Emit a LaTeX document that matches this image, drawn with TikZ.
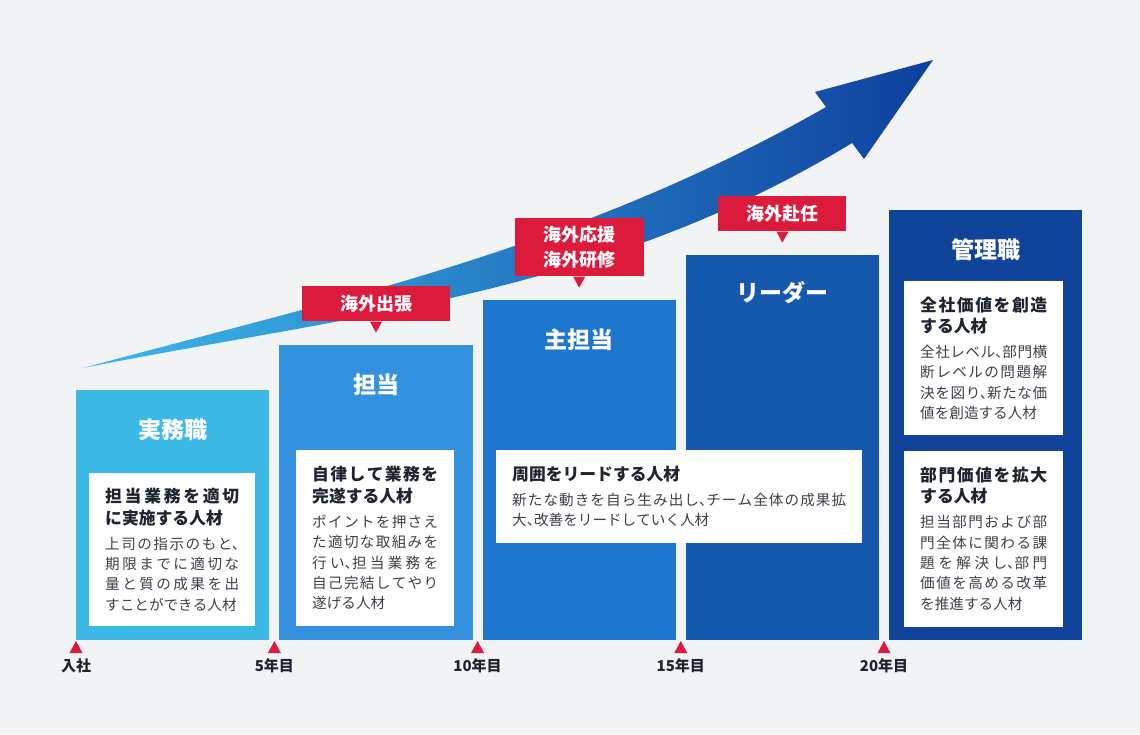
\documentclass[tikz,border=0pt]{standalone}
\usepackage{fontspec}
\setmainfont{Noto Sans CJK JP}
\usepackage{tikz}
\usetikzlibrary{positioning,calc}
\usepackage{xcolor}
\XeTeXlinebreaklocale "ja"
\XeTeXlinebreakskip=0pt plus 6pt
\definecolor{bgcol}{HTML}{F2F3F5}
\definecolor{stageA}{HTML}{3CB9E6}
\definecolor{stageB}{HTML}{3391E0}
\definecolor{stageC}{HTML}{1D77CE}
\definecolor{stageD}{HTML}{1559AF}
\definecolor{stageE}{HTML}{10449B}
\definecolor{arrowL}{HTML}{3CBAEC}
\definecolor{arrowM}{HTML}{1B78D8}
\definecolor{arrowR}{HTML}{0E409E}
\definecolor{redmark}{HTML}{DB1A3C}
\definecolor{headtext}{HTML}{1E2430}
\definecolor{bodytext}{HTML}{3C4048}
\newcommand\tou{、\kern-.5em}
\newcommand\cardhead{\leavevmode\bfseries\fontsize{16.8}{21.5}\selectfont\color{headtext}}
\newcommand\cardbody{\leavevmode\fontsize{14.6}{20.3}\selectfont\color{bodytext}}
\tikzstyle{stage} = [rectangle, anchor=south west, minimum width=193.2pt, inner sep=0pt]
\tikzstyle{stagetitle} = [text=white, font=\bfseries\fontsize{23}{28}\selectfont]
\tikzstyle{card} = [rectangle, fill=white, anchor=north west, inner xsep=16pt, inner ysep=0pt, align=justify]
\tikzstyle{callout} = [rectangle, fill=redmark, text=white, font=\bfseries\fontsize{18}{25}\selectfont, align=center, inner sep=0pt]
\tikzstyle{yearlabel} = [font=\bfseries\fontsize{15}{18}\selectfont, text=headtext]

\begin{document}
\begin{tikzpicture}[x=1pt, y=-1pt]
    \useasboundingbox (0,0) rectangle (1140,734);
    \fill[bgcol] (0,0) rectangle (1140,734);

    % Growth arrow
    \shade[left color=arrowL, middle color=arrowM, right color=arrowR] (83,368) .. controls (333,300) and (576,250) .. (826,107) -- (815,92) -- (933,60) -- (864,159) -- (852,143) .. controls (602,295) and (350,315) .. (83,368) -- cycle;

    % Stages
    \node (jitsumu) [stage, fill=stageA, minimum height=250pt] at (76,640) {};
    \node (tantou) [stage, fill=stageB, minimum height=295pt] at ([xshift=9.6pt]jitsumu.south east) {};
    \node (shutantou) [stage, fill=stageC, minimum height=340pt] at ([xshift=9.6pt]tantou.south east) {};
    \node (leader) [stage, fill=stageD, minimum height=385pt] at ([xshift=9.6pt]shutantou.south east) {};
    \node (kanri) [stage, fill=stageE, minimum height=430pt] at ([xshift=9.6pt]leader.south east) {};

    % Stage titles
    \node (title1) [stagetitle] at ([yshift=-40pt]jitsumu.north) {実務職};
    \node (title2) [stagetitle] at ([yshift=-40pt]tantou.north) {担当};
    \node (title3) [stagetitle] at ([yshift=-40pt]shutantou.north) {主担当};
    \node (title4) [stagetitle] at ([yshift=-38pt]leader.north) {リーダー};
    \node (title5) [stagetitle] at ([yshift=-40pt]kanri.north) {管理職};

    % Cards
    \node (card1) [card, text width=134pt, minimum height=153pt] at (89,473) {{\cardhead 担当業務を適切\linebreak に実施する人材\par}\vskip4.8pt{\cardbody 上司の指示のもと\tou\linebreak 期限までに適切な\linebreak 量と質の成果を出\linebreak すことができる人材\par}};
    \node (card2) [card, text width=126pt, minimum height=176pt] at (296,450) {{\cardhead 自律して業務を\linebreak 完遂する人材\par}\vskip4.8pt{\cardbody ポイントを押さえ\linebreak た適切な取組みを\linebreak 行い\tou 担当業務を\linebreak 自己完結してやり\linebreak 遂げる人材\par}};
    \node (card3) [card, text width=334pt, minimum height=93pt] at (496,450) {{\cardhead 周囲をリードする人材\par}\vskip4.8pt{\cardbody 新たな動きを自ら生み出し\tou チーム全体の成果拡\linebreak 大\tou 改善をリードしていく人材\par}};
    \node (card4) [card, text width=127pt, minimum height=154pt] at (904,281) {{\cardhead 全社価値を創造\linebreak する人材\par}\vskip4.8pt{\cardbody 全社レベル\tou 部門横\linebreak 断レベルの問題解\linebreak 決を図り\tou 新たな価\linebreak 値を創造する人材\par}};
    \node (card5) [card, text width=127pt, minimum height=176pt, below=15pt of card4] {{\cardhead 部門価値を拡大\linebreak する人材\par}\vskip4.8pt{\cardbody 担当部門および部\linebreak 門全体に関わる課\linebreak 題を解決し\tou 部門\linebreak 価値を高める改革\linebreak を推進する人材\par}};

    % Callouts
    \node (trip) [callout, minimum width=148pt, minimum height=35pt, above=23pt of tantou] {海外出張};
    \node (support) [callout, minimum width=129pt, minimum height=58pt, above=23pt of shutantou] {海外応援\\海外研修};
    \node (abroad) [callout, minimum width=128pt, minimum height=35pt, above=23pt of leader] {海外赴任};
    \foreach \c in {trip, support, abroad}
        \fill[redmark] ([xshift=-6pt]\c.south) -- ([xshift=6pt]\c.south) -- ([yshift=-11pt]\c.south) -- cycle;

    % Timeline
    \coordinate (tk0) at (jitsumu.south west);
    \coordinate (tk1) at ($(jitsumu.south east)!.5!(tantou.south west)$);
    \coordinate (tk2) at ($(tantou.south east)!.5!(shutantou.south west)$);
    \coordinate (tk3) at ($(shutantou.south east)!.5!(leader.south west)$);
    \coordinate (tk4) at ($(leader.south east)!.5!(kanri.south west)$);
    \foreach \i/\lbl in {0/入社, 1/5年目, 2/10年目, 3/15年目, 4/20年目} {
        \fill[redmark] ([yshift=-1pt]tk\i) -- ++(6.5,12) -- ++(-13,0) -- cycle;
        \node (yr\i) [yearlabel] at ([yshift=-26pt]tk\i) {\lbl};
    }
\end{tikzpicture}
\end{document}
